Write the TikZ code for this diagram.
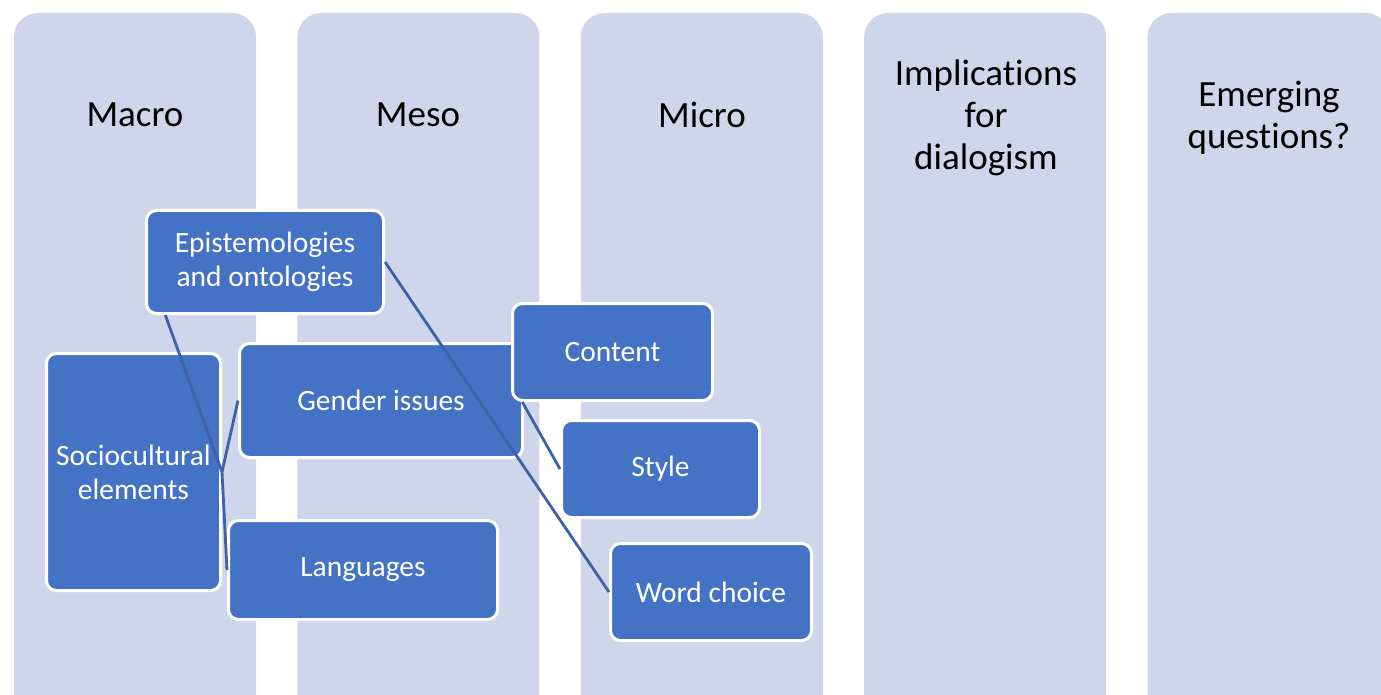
\documentclass[tikz,border=0pt]{standalone}
\usepackage{fontspec}
\setmainfont{Carlito}[Ligatures=NoCommon]
\usepackage{xcolor}
\usetikzlibrary{positioning}
\definecolor{colfill}{RGB}{207,213,234}
\definecolor{boxfill}{RGB}{68,114,196}
\definecolor{linkcol}{RGB}{61,98,168}
\tikzset{
  column/.style={fill=colfill, rounded corners=24pt, minimum width=242pt,
    minimum height=720pt, inner sep=0pt},
  collabel/.style={font=\fontsize{37}{42}\selectfont, align=center, text=black},
  topic/.style={draw=white, line width=3pt, fill=boxfill, rounded corners=10pt,
    text=white, align=center, font=\fontsize{29.5}{34}\selectfont, inner sep=0pt},
  link/.style={draw=linkcol, line width=2.8pt},
}

\begin{document}
\begin{tikzpicture}[x=1pt, y=-1pt]

  \useasboundingbox (0,0) rectangle (1381,695);
  \clip (0,0) rectangle (1381,695);

  % Columns
  \node[column] (col1) at (135,373) {};
  \node[column, right=41pt of col1] (col2) {};
  \node[column, right=41pt of col2] (col3) {};
  \node[column, right=41pt of col3] (col4) {};
  \node[column, right=41pt of col4] (col5) {};

  \node[collabel] (macro) at (135,115) {Macro};
  \node[collabel] (meso) at (418,115) {Meso};
  \node[collabel] (micro) at (702,115) {Micro};
  \node[collabel] (implic) at (986,118) {Implications\\for\\dialogism};
  \node[collabel] (emerg) at (1269,118) {Emerging\\questions?};

  % Define nodes
  \node[topic, minimum width=237pt, minimum height=103pt] (epist) at (265,262) {Epistemologies\\and ontologies};
  \node[topic, minimum width=174pt, minimum height=237pt] (socio) at (133.5,472) {Sociocultural\\elements};
  \node[topic, minimum width=283pt, minimum height=114pt] (gender) at (381,400.5) {Gender issues};
  \node[topic, minimum width=269pt, minimum height=99pt] (lang) at (363,570) {Languages};
  \node[topic, minimum width=200pt, minimum height=97pt] (content) at (612.5,352) {Content};
  \node[topic, minimum width=198pt, minimum height=97pt] (style) at (660.5,469) {Style};
  \node[topic, minimum width=201pt, minimum height=97pt] (word) at (711,592) {Word choice};

  % Connect nodes
  \draw[link] (socio.east) -- (epist.208);
  \draw[link] (socio.east) -- (gender.west);
  \draw[link] (socio.east) -- (lang.west);
  \draw[link] (epist.east) -- (word.west);
  \draw[link] (content.209) -- (style.west);

\end{tikzpicture}
\end{document}
